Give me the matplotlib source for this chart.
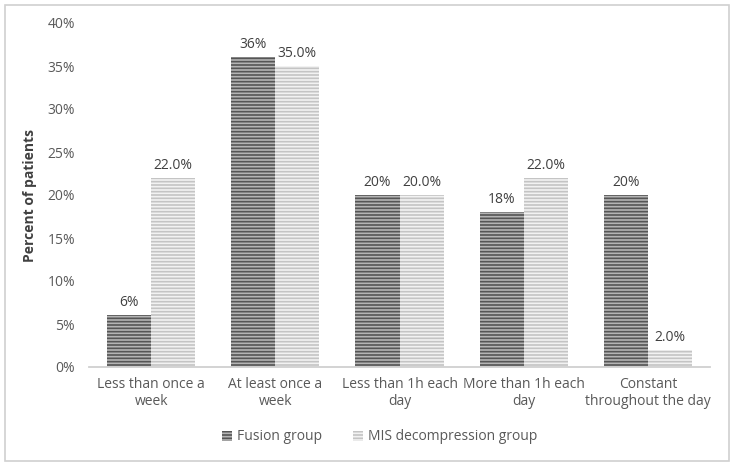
import matplotlib
matplotlib.use("Agg")
import matplotlib.pyplot as plt
import numpy as np
from matplotlib.patches import Rectangle

# categories and values (fractions of patients)
categories = ["Less than once a\nweek", "At least once a\nweek",
              "Less than 1h each\nday", "More than 1h each\nday",
              "Constant\nthroughout the day"]
fusion = [0.06, 0.36, 0.20, 0.18, 0.20]
mis = [0.22, 0.35, 0.20, 0.22, 0.02]
fusion_labels = ["6%", "36%", "20%", "18%", "20%"]
mis_labels = ["22.0%", "35.0%", "20.0%", "22.0%", "2.0%"]
yticks = [0, 0.05, 0.10, 0.15, 0.20, 0.25, 0.30, 0.35, 0.40]

plt.rcParams['font.family'] = ['Open Sans', 'DejaVu Sans']
plt.rcParams['hatch.linewidth'] = 1.2

W, H = 735, 466
fig = plt.figure(figsize=(W / 100, H / 100), dpi=100)
ax = fig.add_axes([89 / W, 1 - 367 / H, (710 - 89) / W, (367 - 23) / H])

x = np.arange(len(categories))
bw = 0.355
txt = '#595959'

b1 = ax.bar(x - bw / 2, fusion, bw, facecolor='#b4b4b4', edgecolor='#555555',
            hatch='-----', linewidth=0, label='Fusion group')
b2 = ax.bar(x + bw / 2, mis, bw, facecolor='#f2f2f2', edgecolor='#c4c4c4',
            hatch='-----', linewidth=0, label='MIS decompression group')

for xi, v, s in zip(x - bw / 2, fusion, fusion_labels):
    ax.text(xi, v + 0.006, s, ha='center', va='bottom', fontsize=10, color='#404040')
for xi, v, s in zip(x + bw / 2, mis, mis_labels):
    ax.text(xi, v + 0.006, s, ha='center', va='bottom', fontsize=10, color='#404040')

ax.set_xlim(-0.5, len(categories) - 0.5)
ax.set_ylim(0, 0.40)
ax.set_yticks(yticks)
ax.set_yticklabels([f"{int(round(t * 100))}%" for t in yticks])
ax.set_xticks(x)
ax.set_xticklabels(categories, linespacing=1.2)
ax.tick_params(axis='both', length=0, labelsize=10, colors=txt)
ax.tick_params(axis='y', pad=10)
ax.tick_params(axis='x', pad=7)
for s in ['top', 'right', 'left']:
    ax.spines[s].set_visible(False)
ax.spines['bottom'].set_color('#d0d0d0')
ax.spines['bottom'].set_linewidth(1.3)

ax.set_ylabel('Percent of patients', fontsize=10, fontweight='bold', color='#404040')
ax.yaxis.set_label_coords(-52 / (710 - 89), 0.5)

fig.legend(handles=[b1, b2], loc='center', bbox_to_anchor=(380 / W, 1 - 437 / H),
           ncol=2, frameon=False, fontsize=10, handlelength=0.7, handleheight=0.7,
           columnspacing=2.2, handletextpad=0.4, labelcolor=txt)

fig.patches.append(Rectangle((5 / W, 5 / H), 724 / W, 456 / H, transform=fig.transFigure,
                             facecolor='none', edgecolor='#d0d0d0', linewidth=1.2))

fig.savefig('out.png', dpi=100)
